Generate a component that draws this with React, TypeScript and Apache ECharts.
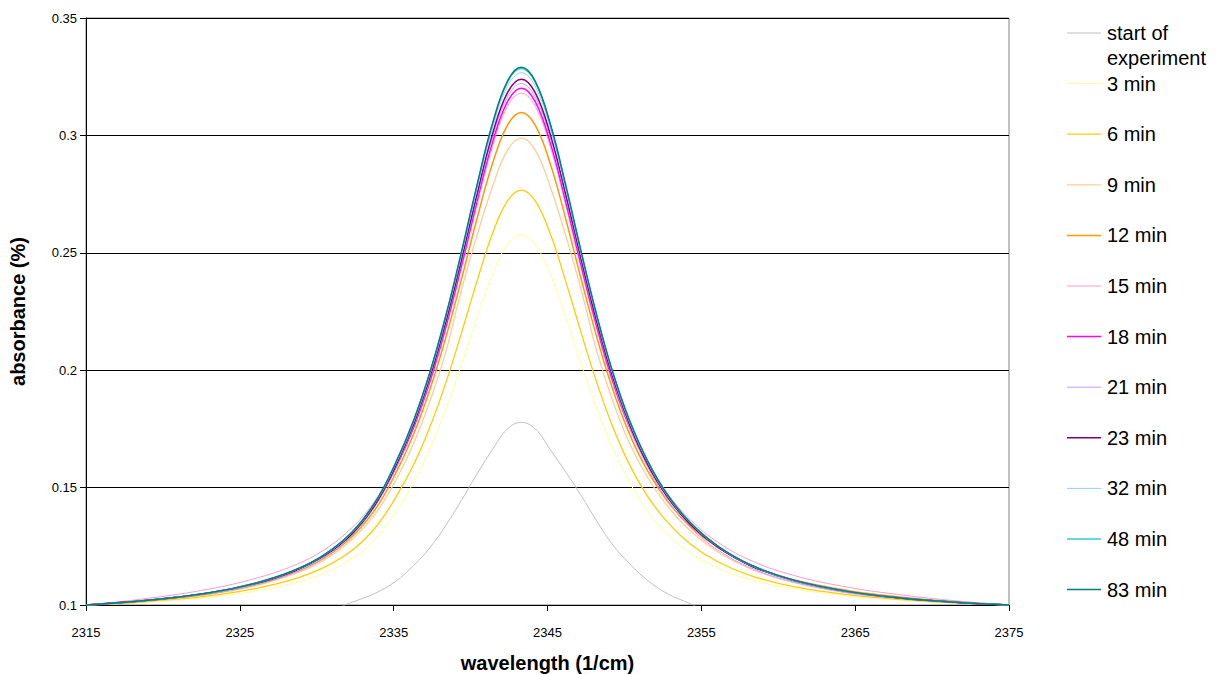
import React, { useEffect, useRef } from "react";
import * as echarts from "echarts";

const wavelengths = [2315, 2319, 2323, 2326, 2328.5, 2330.5, 2332.3, 2333.8, 2335.1, 2336.3, 2337.4, 2338.4, 2339.4, 2340.4, 2341.4, 2342.4, 2343.3, 2344.2, 2345.2, 2346.2, 2347.2, 2348.2, 2349.2, 2350.3, 2351.5, 2352.8, 2354.3, 2356.1, 2358.3, 2361, 2364.5, 2368, 2371.5, 2375];

const startOfExperiment = [null, null, null, null, null, 0.0965, 0.1012, 0.1050, 0.1100, 0.1168, 0.1248, 0.1340, 0.1445, 0.1556, 0.1660, 0.1750, 0.1778, 0.1750, 0.1660, 0.1565, 0.1465, 0.1358, 0.1260, 0.1178, 0.1105, 0.1048, 0.1005, 0.0950, null, null, null, null, null, null];
const min3 = [0.1, 0.1012, 0.1033, 0.1059, 0.1093, 0.1137, 0.1199, 0.1283, 0.1394, 0.1523, 0.1673, 0.1837, 0.2024, 0.2222, 0.2405, 0.2535, 0.2576, 0.2535, 0.2405, 0.2222, 0.2024, 0.1837, 0.1673, 0.1527, 0.1400, 0.1301, 0.1221, 0.1158, 0.1106, 0.1069, 0.1039, 0.1020, 0.1008, 0.1];
const min6 = [0.1, 0.1015, 0.1039, 0.1070, 0.1110, 0.1161, 0.1233, 0.1329, 0.1454, 0.1598, 0.1766, 0.1948, 0.2157, 0.2375, 0.2578, 0.2721, 0.2767, 0.2721, 0.2578, 0.2375, 0.2157, 0.1948, 0.1766, 0.1602, 0.1464, 0.1353, 0.1259, 0.1183, 0.1123, 0.1078, 0.1044, 0.1023, 0.1009, 0.1];
const min9 = [0.1, 0.1017, 0.1045, 0.1082, 0.1131, 0.1192, 0.1280, 0.1388, 0.1526, 0.1689, 0.1876, 0.2081, 0.2340, 0.2570, 0.2777, 0.2937, 0.2988, 0.2937, 0.2777, 0.2570, 0.2340, 0.2081, 0.1876, 0.1693, 0.1544, 0.1421, 0.1315, 0.1225, 0.1151, 0.1095, 0.1053, 0.1027, 0.1011, 0.1];
const min12 = [0.1, 0.1018, 0.1048, 0.1086, 0.1137, 0.1201, 0.1292, 0.1407, 0.1556, 0.1728, 0.1926, 0.2142, 0.2385, 0.2641, 0.2875, 0.3044, 0.3098, 0.3044, 0.2875, 0.2641, 0.2385, 0.2142, 0.1926, 0.1733, 0.1572, 0.1442, 0.1333, 0.1243, 0.1167, 0.1108, 0.1062, 0.1033, 0.1014, 0.1];
const min15 = [0.1, 0.1028, 0.1068, 0.1113, 0.1168, 0.1236, 0.1330, 0.1445, 0.1586, 0.1756, 0.1953, 0.2176, 0.2430, 0.2698, 0.2947, 0.3124, 0.3180, 0.3124, 0.2947, 0.2698, 0.2430, 0.2176, 0.1953, 0.1760, 0.1605, 0.1475, 0.1362, 0.1266, 0.1187, 0.1126, 0.1076, 0.1043, 0.1018, 0.1];
const min18 = [0.1, 0.1020, 0.1051, 0.1092, 0.1145, 0.1212, 0.1306, 0.1427, 0.1580, 0.1756, 0.1962, 0.2187, 0.2443, 0.2714, 0.2965, 0.3144, 0.3201, 0.3144, 0.2965, 0.2714, 0.2443, 0.2187, 0.1962, 0.1762, 0.1597, 0.1461, 0.1343, 0.1246, 0.1166, 0.1105, 0.1057, 0.1030, 0.1012, 0.1];
const min21 = [0.1, 0.1019, 0.1048, 0.1086, 0.1137, 0.1202, 0.1299, 0.1423, 0.1583, 0.1763, 0.1971, 0.2198, 0.2457, 0.2730, 0.2984, 0.3164, 0.3221, 0.3164, 0.2984, 0.2730, 0.2457, 0.2198, 0.1971, 0.1764, 0.1590, 0.1447, 0.1329, 0.1233, 0.1156, 0.1098, 0.1052, 0.1027, 0.1011, 0.1];
const min23 = [0.1, 0.1020, 0.1051, 0.1091, 0.1144, 0.1210, 0.1304, 0.1428, 0.1588, 0.1770, 0.1979, 0.2208, 0.2469, 0.2745, 0.3000, 0.3182, 0.3239, 0.3182, 0.3000, 0.2745, 0.2469, 0.2208, 0.1979, 0.1775, 0.1601, 0.1460, 0.1342, 0.1245, 0.1164, 0.1104, 0.1057, 0.1029, 0.1012, 0.1];
const min32 = [0.1, 0.1020, 0.1051, 0.1092, 0.1146, 0.1213, 0.1308, 0.1434, 0.1595, 0.1779, 0.1991, 0.2223, 0.2487, 0.2766, 0.3025, 0.3209, 0.3267, 0.3209, 0.3025, 0.2766, 0.2487, 0.2223, 0.1991, 0.1784, 0.1609, 0.1465, 0.1347, 0.1248, 0.1166, 0.1105, 0.1057, 0.1030, 0.1012, 0.1];
const min48 = [0.1, 0.1020, 0.1052, 0.1093, 0.1147, 0.1215, 0.1310, 0.1437, 0.1600, 0.1785, 0.1999, 0.2232, 0.2499, 0.2780, 0.3041, 0.3227, 0.3285, 0.3227, 0.3041, 0.2780, 0.2499, 0.2232, 0.1999, 0.1790, 0.1614, 0.1469, 0.1349, 0.1249, 0.1168, 0.1106, 0.1058, 0.1030, 0.1012, 0.1];
const min83 = [0.1, 0.1020, 0.1052, 0.1093, 0.1147, 0.1215, 0.1311, 0.1438, 0.1601, 0.1787, 0.2001, 0.2235, 0.2502, 0.2784, 0.3045, 0.3231, 0.3290, 0.3231, 0.3045, 0.2784, 0.2502, 0.2235, 0.2001, 0.1792, 0.1615, 0.1470, 0.1350, 0.1250, 0.1168, 0.1106, 0.1058, 0.1030, 0.1012, 0.1];

const seriesNames = ["start of experiment", "3 min", "6 min", "9 min", "12 min", "15 min", "18 min", "21 min", "23 min", "32 min", "48 min", "83 min"];
const legendLabels = ["start of\nexperiment", "3 min", "6 min", "9 min", "12 min", "15 min", "18 min", "21 min", "23 min", "32 min", "48 min", "83 min"];
const seriesValues = [startOfExperiment, min3, min6, min9, min12, min15, min18, min21, min23, min32, min48, min83];
const seriesColors = ["#C0C0C0", "#FFFF99", "#FFCC00", "#FFCC99", "#FF9900", "#FF99CC", "#FF00FF", "#CC99FF", "#800080", "#99CCFF", "#33CCCC", "#008080"];
const seriesWidths = [1, 1, 1.3, 1.3, 1.5, 1, 1.5, 1, 1.5, 1, 1.3, 1.5];

const FONT = "'Liberation Sans', Arial, sans-serif";

export default function App() {
  const ref = useRef<HTMLDivElement>(null);
  useEffect(() => {
    if (!ref.current) return;
    const chart = echarts.init(ref.current, undefined, { renderer: "svg" });

    const series = seriesNames.map((name, i) => ({
      name,
      type: "line",
      data: wavelengths.map((w, j) => [w, seriesValues[i][j]]),
      smooth: 0.4,
      showSymbol: false,
      symbol: "none",
      clip: true,
      lineStyle: { color: seriesColors[i], width: seriesWidths[i] },
      itemStyle: { color: seriesColors[i] },
      z: 2 + i,
    }));

    const legendGraphics: any[] = [];
    seriesNames.forEach((_, i) => {
      const y = 33 + i * 50.6;
      legendGraphics.push({
        type: "line",
        shape: { x1: 1067, y1: y, x2: 1101, y2: y },
        style: { stroke: seriesColors[i], lineWidth: seriesWidths[i] },
      });
      legendGraphics.push({
        type: "text",
        x: 1107,
        y: i === 0 ? y - 12.5 : y,
        style: {
          text: legendLabels[i],
          fontSize: 20,
          fontFamily: FONT,
          fill: "#000",
          lineHeight: 25,
          verticalAlign: i === 0 ? "top" : "middle",
          align: "left",
        },
      });
    });

    chart.setOption({
      animation: false,
      backgroundColor: "#fff",
      grid: {
        left: 86,
        right: 214,
        top: 18,
        bottom: 70,
        show: true,
        borderColor: "#808080",
        borderWidth: 1,
        containLabel: false,
        outerBoundsMode: "none",
      },
      xAxis: {
        type: "value",
        min: 2315,
        max: 2375,
        interval: 10,
        name: "wavelength (1/cm)",
        nameLocation: "middle",
        nameGap: 48,
        nameTextStyle: { fontFamily: FONT, fontSize: 20, fontWeight: "bold", color: "#000" },
        axisLine: { show: true, lineStyle: { color: "#000", width: 1 } },
        axisTick: { show: true, length: 6, inside: false, lineStyle: { color: "#000" } },
        axisLabel: {
          fontFamily: FONT,
          fontSize: 13,
          color: "#000",
          margin: 21,
          formatter: (v: number) => String(Math.round(v)),
        },
        splitLine: { show: false },
      },
      yAxis: {
        type: "value",
        min: 0.1,
        max: 0.35,
        interval: 0.05,
        name: "absorbance (%)",
        nameLocation: "middle",
        nameGap: 58,
        nameRotate: 90,
        nameTextStyle: { fontFamily: FONT, fontSize: 20, fontWeight: "bold", color: "#000" },
        axisLine: { show: true, lineStyle: { color: "#000", width: 1 } },
        axisTick: { show: true, length: 6, inside: false, lineStyle: { color: "#000" } },
        axisLabel: {
          fontFamily: FONT,
          fontSize: 13,
          color: "#000",
          margin: 9,
          formatter: (v: number) => String(Math.round(v * 100) / 100),
        },
        splitLine: { show: true, lineStyle: { color: "#000", width: 1 } },
      },
      series,
      graphic: legendGraphics,
    });

    return () => chart.dispose();
  }, []);

  return (
    <div
      ref={ref}
      style={{ position: "absolute", left: 0, top: 0, width: 1223, height: 675, background: "#fff" }}
    />
  );
}
